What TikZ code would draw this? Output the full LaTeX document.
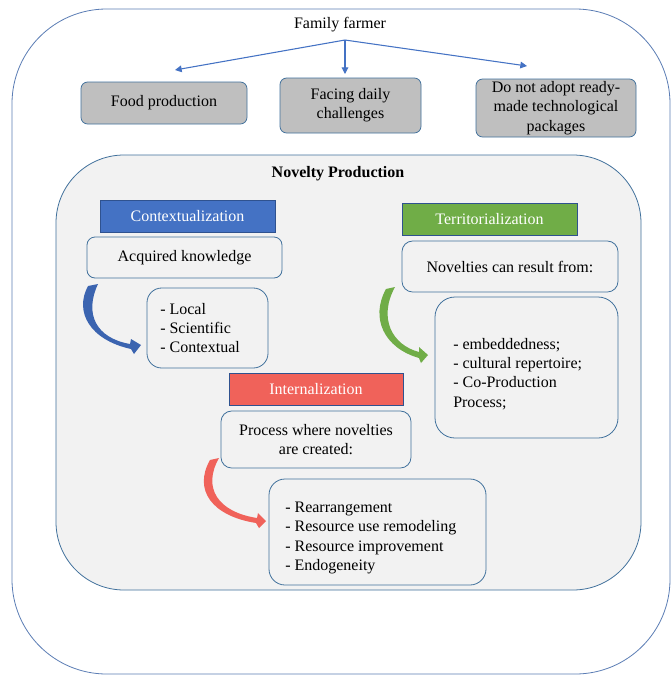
\documentclass[tikz,border=0pt]{standalone}
\usepackage{fontspec}
\setmainfont{Liberation Serif}
\usetikzlibrary{arrows.meta}
\definecolor{bordc}{HTML}{41719C}
\definecolor{outc}{HTML}{5B7DB5}
\definecolor{bgc}{HTML}{F2F2F2}
\definecolor{grayc}{HTML}{BFBFBF}
\definecolor{bluec}{HTML}{4472C4}
\definecolor{greenc}{HTML}{70AD47}
\definecolor{redc}{HTML}{F0625A}
\definecolor{arrblue}{HTML}{3B64B0}
\definecolor{bannerline}{HTML}{2F528F}
\begin{document}
\begin{tikzpicture}[x=0.75pt,y=-0.75pt,
  txt/.style={font=\fontsize{12}{14.5}\selectfont, inner sep=0pt, align=center},
  listtxt/.style={txt, align=left, anchor=west},
  sz/.style 2 args={minimum width=#1, minimum height=#2},
  graybox/.style={txt, draw=bordc, fill=grayc, rounded corners=5pt, line width=0.6pt},
  banner/.style={txt, draw=bannerline, line width=0.6pt, text=white},
  wbox/.style={txt, draw=bordc, fill=bgc, line width=0.6pt},
  toparrow/.style={draw=bluec, line width=0.8pt, -{Triangle[length=5pt,width=5pt]}}]
\useasboundingbox (0,0) rectangle (671,676);
\fill[white] (0,0) rectangle (671,676);
% outer container
\draw[outc, line width=0.6pt, rounded corners=71pt] (12,9) rectangle (670,674);
% inner container
\draw[bordc, fill=bgc, line width=0.6pt, rounded corners=51pt] (56,155) rectangle (641,590);
% top part
\node[txt] (ff) at (340,25) {Family farmer};
\coordinate (fo) at (345,40);
\coordinate (t1) at (175,70);
\coordinate (t2) at (345,74);
\coordinate (t3) at (527,66);
\draw[toparrow] (fo) -- (t1);
\draw[toparrow] (fo) -- (t2);
\draw[toparrow] (fo) -- (t3);
\node[graybox, sz={124.5pt}{31.5pt}] (food) at (164,103) {Food production};
\node[graybox, sz={105.75pt}{41.25pt}] (face) at (350.5,105.5) {Facing daily\\challenges};
\node[graybox, sz={120pt}{43.5pt}] (adopt) at (556,108) {Do not adopt ready-\\made technological\\packages};
% title
\node[txt, font=\fontsize{12}{14.5}\selectfont\bfseries] (nov) at (338,174) {Novelty Production};
% contextualization
\node[banner, fill=bluec, sz={131.25pt}{24pt}] (ctx) at (187.5,216) {Contextualization};
\node[wbox, rounded corners=6pt, sz={146.25pt}{30.75pt}] (acq) at (184.5,257.5) {Acquired knowledge};
\node[wbox, rounded corners=11pt, sz={90.75pt}{60pt}] (loc) at (207.5,328) {};
\node[listtxt] (loct) at (160,328) {- Local\\- Scientific\\- Contextual};
% territorialization
\node[banner, fill=greenc, sz={131.25pt}{24pt}] (ter) at (489.5,219) {Territorialization};
\node[wbox, rounded corners=8pt, sz={162pt}{38.25pt}] (novb) at (510,266.5) {Novelties can result from:};
\node[wbox, rounded corners=15pt, sz={137.25pt}{105.75pt}] (terl) at (526.5,367.5) {};
\node[listtxt] (terlt) at (453,374) {- embeddedness;\\- cultural repertoire;\\- Co-Production\\Process;};
% internalization
\node[banner, fill=redc, sz={130.5pt}{24pt}] (int) at (316,389) {Internalization};
\node[wbox, rounded corners=8pt, sz={142.5pt}{42.75pt}] (proc) at (316,439.5) {Process where novelties\\are created:};
\node[wbox, rounded corners=12pt, sz={162.75pt}{79.5pt}] (intl) at (377.5,532) {};
\node[listtxt] (intlt) at (285,538) {- Rearrangement\\- Resource use remodeling\\- Resource improvement\\- Endogeneity};
% curved tapered arrows
\fill[arrblue] (88,286) .. controls (74,312) and (90,340) .. (131,349) -- (134,354) -- (141,345) -- (131,339) -- (130,344) .. controls (96,338) and (84,314) .. (98,284) -- cycle;
\fill[greenc] (386,289) .. controls (370,318) and (384,348) .. (419,358) -- (421,363) -- (428,355) -- (419,347) -- (419,352) .. controls (392,345) and (378,318) .. (395,287) -- cycle;
\fill[redc] (210,460) .. controls (193,490) and (212,516) .. (256,523) -- (259,528) -- (266,521) -- (258,513) -- (257,518) .. controls (218,512) and (202,488) .. (219,458) -- cycle;
\end{tikzpicture}
\end{document}
